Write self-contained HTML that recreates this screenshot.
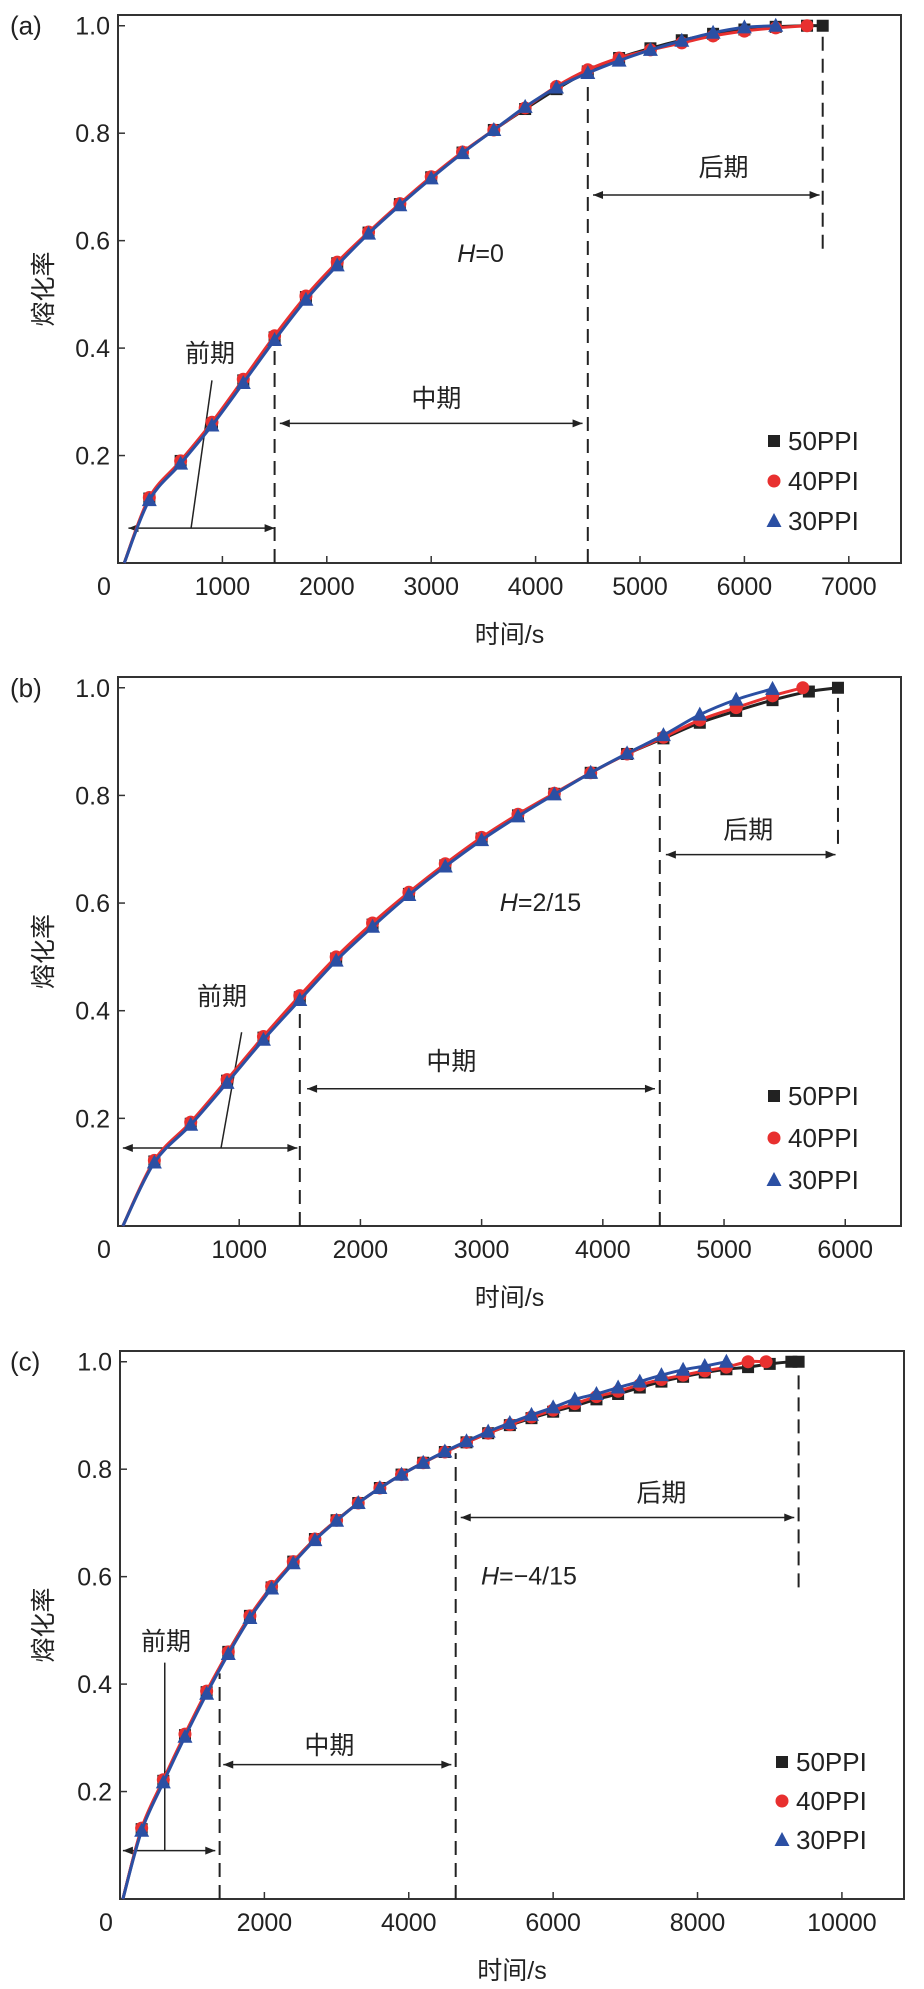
<!DOCTYPE html>
<html><head><meta charset="utf-8">
<style>
body{margin:0;background:#fff;}
svg text{font-family:"Liberation Sans","Noto Sans CJK SC",sans-serif;fill:#222;}
</style></head>
<body>
<svg id="fig" width="924" height="1984" viewBox="0 0 924 1984" xmlns="http://www.w3.org/2000/svg"></svg>
<script>
// ---- Panel (a) data ----
const aX50=[60,300,600,900,1200,1500,1800,2100,2400,2700,3000,3300,3600,3900,4200,4500,4800,5100,5400,5700,6000,6300,6600,6750];
const aY50=[0,0.12,0.19,0.26,0.34,0.42,0.495,0.558,0.615,0.668,0.718,0.764,0.806,0.845,0.882,0.915,0.94,0.958,0.973,0.985,0.993,0.998,1.0,1.0];
const aX40=[60,300,600,900,1200,1500,1800,2100,2400,2700,3000,3300,3600,3900,4200,4500,4800,5100,5400,5700,6000,6300,6600];
const aY40=[0,0.122,0.19,0.262,0.342,0.423,0.497,0.56,0.616,0.669,0.719,0.765,0.806,0.847,0.887,0.918,0.94,0.955,0.968,0.981,0.99,0.996,1.0];
const aX30=[60,300,600,900,1200,1500,1800,2100,2400,2700,3000,3300,3600,3900,4200,4500,4800,5100,5400,5700,6000,6300];
const aY30=[0,0.117,0.185,0.256,0.335,0.415,0.49,0.554,0.613,0.666,0.716,0.763,0.806,0.849,0.885,0.912,0.935,0.955,0.972,0.987,0.997,1.0];
// ---- Panel (b) data ----
const bX50=[40,300,600,900,1200,1500,1800,2100,2400,2700,3000,3300,3600,3900,4200,4500,4800,5100,5400,5700,5940];
const bY50=[0,0.12,0.19,0.27,0.35,0.425,0.497,0.56,0.617,0.67,0.72,0.763,0.803,0.842,0.877,0.906,0.935,0.957,0.977,0.993,1.0];
const bX40=[40,300,600,900,1200,1500,1800,2100,2400,2700,3000,3300,3600,3900,4200,4500,4800,5100,5400,5650];
const bY40=[0,0.122,0.193,0.272,0.352,0.428,0.5,0.563,0.62,0.673,0.722,0.765,0.804,0.842,0.877,0.908,0.94,0.963,0.985,1.0];
const bX30=[40,300,600,900,1200,1500,1800,2100,2400,2700,3000,3300,3600,3900,4200,4500,4800,5100,5400];
const bY30=[0,0.118,0.188,0.266,0.346,0.42,0.493,0.556,0.615,0.668,0.717,0.761,0.802,0.842,0.878,0.912,0.95,0.978,0.998];
// ---- Panel (c) data ----
const cX50=[40,300,600,900,1200,1500,1800,2100,2400,2700,3000,3300,3600,3900,4200,4500,4800,5100,5400,5700,6000,6300,6600,6900,7200,7500,7800,8100,8400,8700,9000,9300,9400];
const cY50=[0,0.13,0.22,0.305,0.385,0.46,0.527,0.58,0.628,0.67,0.705,0.737,0.765,0.79,0.812,0.832,0.85,0.867,0.882,0.895,0.907,0.918,0.93,0.94,0.952,0.963,0.972,0.98,0.986,0.99,0.996,1.0,1.0];
const cX40=[40,300,600,900,1200,1500,1800,2100,2400,2700,3000,3300,3600,3900,4200,4500,4800,5100,5400,5700,6000,6300,6600,6900,7200,7500,7800,8100,8400,8700,8950];
const cY40=[0,0.132,0.222,0.307,0.387,0.46,0.527,0.582,0.628,0.67,0.705,0.737,0.765,0.79,0.812,0.832,0.85,0.867,0.883,0.897,0.91,0.922,0.935,0.945,0.957,0.967,0.975,0.983,0.99,1.0,1.0];
const cX30=[40,300,600,900,1200,1500,1800,2100,2400,2700,3000,3300,3600,3900,4200,4500,4800,5100,5400,5700,6000,6300,6600,6900,7200,7500,7800,8100,8400];
const cY30=[0,0.127,0.217,0.302,0.382,0.456,0.523,0.578,0.625,0.668,0.704,0.737,0.765,0.79,0.812,0.833,0.852,0.87,0.886,0.901,0.915,0.93,0.94,0.952,0.963,0.975,0.985,0.992,1.0];
const aTicks=[0,1000,2000,3000,4000,5000,6000,7000];
const bTicks=[0,1000,2000,3000,4000,5000,6000];
const cTicks=[0,2000,4000,6000,8000,10000];
const yTicks=[0.2,0.4,0.6,0.8,1.0];

const NS="http://www.w3.org/2000/svg";
const svg=document.getElementById('fig');
function mk(tag,attrs,parent){const e=document.createElementNS(NS,tag);for(const k in attrs)e.setAttribute(k,attrs[k]);(parent||svg).appendChild(e);return e;}
function txt(s,x,y,size,parent,anchor,style){const t=mk('text',{x:x,y:y,'font-size':size,'text-anchor':anchor||'middle'},parent);if(style)t.setAttribute('font-style',style);t.textContent=s;return t;}
function smooth(pts){let d='M'+pts[0][0]+','+pts[0][1];for(let i=0;i<pts.length-1;i++){const p0=pts[Math.max(0,i-1)],p1=pts[i],p2=pts[i+1],p3=pts[Math.min(pts.length-1,i+2)];const c1=[p1[0]+(p2[0]-p0[0])/6,p1[1]+(p2[1]-p0[1])/6],c2=[p2[0]-(p3[0]-p1[0])/6,p2[1]-(p3[1]-p1[1])/6];d+=` C${c1[0]},${c1[1]} ${c2[0]},${c2[1]} ${p2[0]},${p2[1]}`;}return d;}

function panel(P){
  const g=mk('g',{});
  
  
  const sx=v=>P.L+(v/P.xmax)*(P.R-P.L);
  const sy=v=>P.B-(v/P.ymax)*(P.B-P.T);
  const box=mk('rect',{x:P.L,y:P.T,width:P.R-P.L,height:P.B-P.T,fill:'none',stroke:'#333','stroke-width':2},g);
  
  const lab=txt('('+P.id+')',10,sy(1.0)+9,26,g,'start');
  
  P.ticks.forEach(v=>{const x=sx(v);mk('line',{x1:x,x2:x,y1:P.B,y2:P.B-7,stroke:'#333','stroke-width':1.5},g);
    const t=txt(String(v),v===0?x-14:x,P.B+32,25,g);});
  yTicks.forEach(v=>{const y=sy(v);mk('line',{x1:P.L,x2:P.L+7,y1:y,y2:y,stroke:'#333','stroke-width':1.5},g);
    const t=txt(v.toFixed(1),P.L-8,y+9,25,g,'end');});
  const xl=txt('时间/s',(P.L+P.R)/2,P.B+80,25,g);
  const yl=txt('熔化率',0,0,25,g);yl.setAttribute('transform',`translate(52,${(P.T+P.B)/2}) rotate(-90)`);
  
  const A=P.ann;
  A.dash.forEach(d=>{const l=mk('line',{x1:sx(d[0]),x2:sx(d[0]),y1:sy(d[1]),y2:sy(d[2]),stroke:'#222','stroke-width':2,'stroke-dasharray':'14,8'},g);
    });
  A.arrows.forEach(a=>{const y=sy(a[2]),x1=sx(a[0]),x2=sx(a[1]);
    const ag=mk('g',{},g);
    mk('line',{x1:x1,x2:x2,y1:y,y2:y,stroke:'#222','stroke-width':1.5},ag);
    mk('path',{d:`M${x1},${y} l10,-4 v8 z M${x2},${y} l-10,-4 v8 z`,fill:'#222'},ag);
    const t=txt(a[3],sx(a[4]),sy(a[5]),25,ag);});
  const ld=mk('line',{x1:sx(A.lead[0]),y1:sy(A.lead[1]),x2:sx(A.lead[2]),y2:sy(A.lead[3]),stroke:'#222','stroke-width':1.5},g);
  
  const h=mk('text',{x:sx(A.h[0]),y:sy(A.h[1]),'font-size':25,'text-anchor':'start'},g);
  
  const hi=mk('tspan',{'font-style':'italic'},h);hi.textContent='H';const hr=mk('tspan',{},h);hr.textContent=A.h[2];
  const S=[[P.x50,P.y50,'#222','sq','50PPI'],[P.x40,P.y40,'#e8302f','ci','40PPI'],[P.x30,P.y30,'#2b4fa3','tr','30PPI']];
  S.forEach(s=>{const sg=mk('g',{},g);
    const pts=s[0].map((x,i)=>[sx(x),sy(s[1][i])]);
    const ln=mk('path',{d:smooth(pts),fill:'none',stroke:s[2],'stroke-width':3},sg);
    
    pts.forEach((p,i)=>{if(i===0)return;const m=marker(s[3],p[0],p[1],s[2],sg);
      });});
  S.forEach((s,i)=>{const y=P.leg[1]+i*P.leg[2];const lg=mk('g',{},g);
    
    marker(s[3],P.leg[0],y,s[2],lg);txt(s[4],P.leg[0]+14,y+9,26,lg,'start');});
}
function marker(t,x,y,c,p){
  if(t==='sq')return mk('rect',{x:x-6,y:y-6,width:12,height:12,fill:c},p);
  if(t==='ci')return mk('circle',{cx:x,cy:y,r:6.5,fill:c},p);
  return mk('path',{d:`M${x},${y-8} L${x+7.5},${y+6} L${x-7.5},${y+6} Z`,fill:c},p);
}
panel({id:'a',L:118,R:901,T:15,B:563,xmax:7500,ymax:1.02,ticks:aTicks,x50:aX50,y50:aY50,x40:aX40,y40:aY40,x30:aX30,y30:aY30,leg:[774,441,40],
  ann:{dash:[[1500,0,0.42],[4500,0,0.92],[6750,0.585,1.0]],
       arrows:[[100,1500,0.065,'',0,0],[1550,4450,0.26,'中期',3050,0.29],[4550,6720,0.685,'后期',5800,0.72]],
       lead:[900,0.34,700,0.065],h:[3250,0.56,'=0']}});
panel({id:'b',L:118,R:901,T:677,B:1226,xmax:6460,ymax:1.02,ticks:bTicks,x50:bX50,y50:bY50,x40:bX40,y40:bY40,x30:bX30,y30:bY30,leg:[774,1096,42],
  ann:{dash:[[1500,0,0.43],[4470,0,0.91],[5940,0.71,1.0]],
       arrows:[[40,1480,0.145,'',0,0],[1560,4430,0.255,'中期',2750,0.29],[4520,5920,0.69,'后期',5200,0.72]],
       lead:[1020,0.36,850,0.145],h:[3150,0.585,'=2/15']}});
panel({id:'c',L:120,R:904,T:1351,B:1899,xmax:10860,ymax:1.02,ticks:cTicks,x50:cX50,y50:cY50,x40:cX40,y40:cY40,x30:cX30,y30:cY30,leg:[782,1762,39],
  ann:{dash:[[1380,0,0.42],[4650,0,0.83],[9400,0.58,1.0]],
       arrows:[[40,1320,0.09,'',0,0],[1430,4590,0.25,'中期',2900,0.27],[4720,9340,0.71,'后期',7500,0.74]],
       lead:[620,0.09,620,0.44],h:[5000,0.585,'=−4/15']}});
const qq=[[210,362],[222,1005],[166,1650]];
qq.forEach(q=>{const t=txt('前期',q[0],q[1],25);

});
</script>
</body></html>
